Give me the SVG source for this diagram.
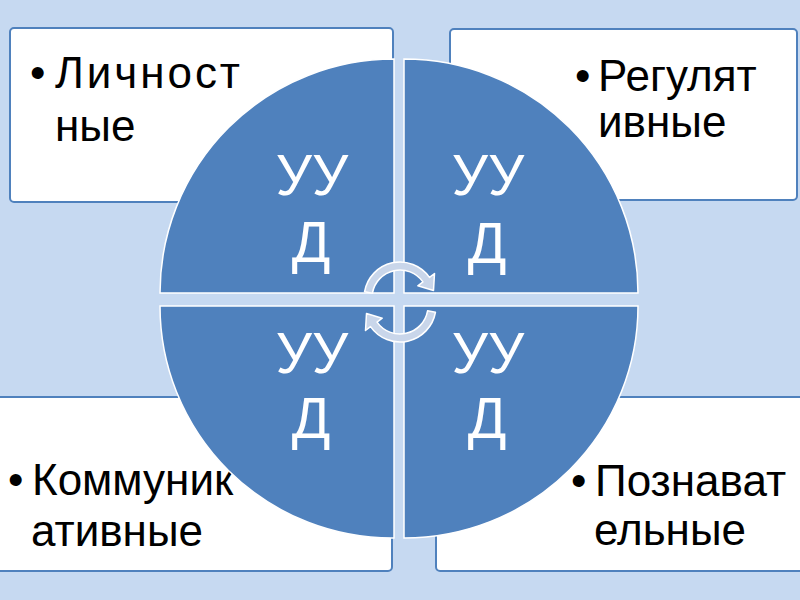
<svg xmlns="http://www.w3.org/2000/svg" width="800" height="600" viewBox="0 0 800 600">
  <style>
    .box { fill: #ffffff; stroke: #4f81bd; stroke-width: 2; }
    .quad { fill: #4f81bd; stroke: #ffffff; stroke-width: 1.5; }
    .lbl { font-family: "Liberation Sans", Arial, sans-serif; font-size: 44px; fill: #000000; }
    .uud { font-family: "Liberation Sans", Arial, sans-serif; font-size: 57px; fill: #ffffff; text-anchor: middle; }
    .arr { fill: #c9d6ea; stroke: #ffffff; stroke-width: 1.5; stroke-linejoin: round; }
  </style>
  <rect x="0" y="0" width="800" height="600" fill="#c6d9f1"/>

  <g id="box-lichnostnye">
    <rect class="box" x="10" y="28" width="383" height="174" rx="4"/>
    <text class="lbl" x="30" y="88">•</text>
    <text class="lbl" x="55" y="88" textLength="185" lengthAdjust="spacing">Личност</text>
    <text class="lbl" x="55" y="141">ные</text>
  </g>
  <g id="box-regulyativnye">
    <rect class="box" x="450" y="29" width="347" height="171" rx="4"/>
    <text class="lbl" x="575" y="91">•</text>
    <text class="lbl" x="598" y="91">Регулят</text>
    <text class="lbl" x="598" y="137">ивные</text>
  </g>
  <g id="box-kommunikativnye">
    <rect class="box" x="-6" y="397" width="398" height="174" rx="4"/>
    <text class="lbl" x="8" y="495">•</text>
    <text class="lbl" x="32" y="495">Коммуник</text>
    <text class="lbl" x="31" y="546">ативные</text>
  </g>
  <g id="box-poznavatelnye">
    <rect class="box" x="436" y="397" width="370" height="174" rx="4"/>
    <text class="lbl" x="571" y="496">•</text>
    <text class="lbl" x="595" y="496">Познават</text>
    <text class="lbl" x="594" y="545">ельные</text>
  </g>

  <g id="quad-tl">
    <path class="quad" d="M394,293 L160,293 A234,234 0 0 1 394,59 Z"/>
    <text class="uud" x="312" y="195">УУ</text>
    <text class="uud" x="311" y="262">Д</text>
  </g>
  <g id="quad-tr">
    <path class="quad" d="M404,293 L404,59 A234,234 0 0 1 638,293 Z"/>
    <text class="uud" x="488" y="195">УУ</text>
    <text class="uud" x="487" y="263">Д</text>
  </g>
  <g id="quad-bl">
    <path class="quad" d="M394,306 L394,538 A232,232 0 0 1 160,306 Z"/>
    <text class="uud" x="312" y="373">УУ</text>
    <text class="uud" x="311" y="438">Д</text>
  </g>
  <g id="quad-br">
    <path class="quad" d="M404,306 L638,306 A234,232 0 0 1 404,538 Z"/>
    <text class="uud" x="488" y="373">УУ</text>
    <text class="uud" x="487" y="438">Д</text>
  </g>

  <g id="connectors">
    <path class="arr" d="M364.55,291.75 A36,36 0 0 1 429.49,277.35 L434.5,273.5 L433.5,290.5 L417.8,285.8 L422.94,281.94 A28,28 0 0 0 372.43,293.14 Z"/>
    <path class="arr" transform="rotate(180 400 302)" d="M364.55,291.75 A36,36 0 0 1 429.49,277.35 L434.5,273.5 L433.5,290.5 L417.8,285.8 L422.94,281.94 A28,28 0 0 0 372.43,293.14 Z"/>
  </g>
</svg>
